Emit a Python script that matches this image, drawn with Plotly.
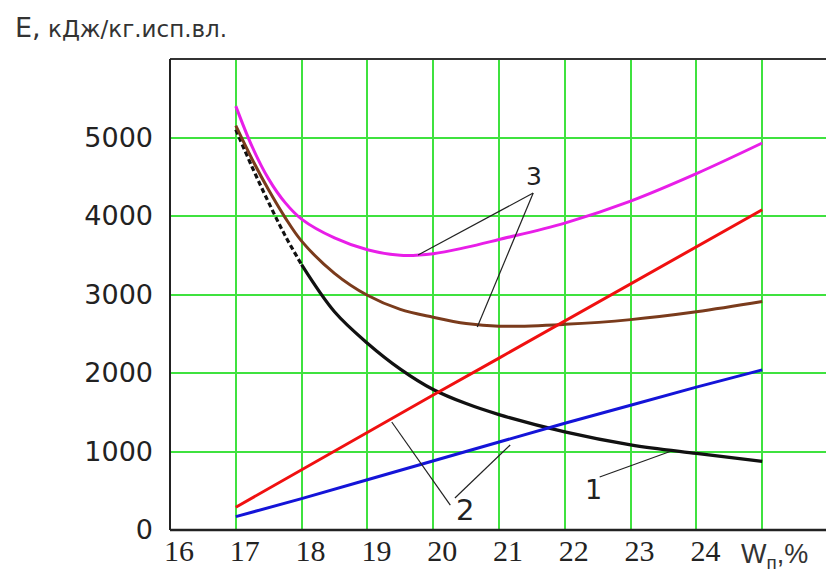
import plotly.graph_objects as go

# ---- data ----
w_curve = [17, 17.25, 17.5, 17.75, 18, 18.5, 19, 19.5, 20, 20.5, 21, 22, 23, 24, 25]
e1_black = [5100, 4620, 4170, 3750, 3380, 2780, 2380, 2050, 1790, 1610, 1470, 1250, 1085, 975, 875]
e3_magenta = [5400, 4880, 4470, 4170, 3960, 3720, 3570, 3500, 3520, 3600, 3700, 3910, 4190, 4540, 4930]
e3_brown = [5150, 4720, 4330, 3980, 3680, 3270, 2990, 2810, 2710, 2630, 2595, 2620, 2680, 2780, 2910]

w_lin = [17, 18, 19, 20, 21, 22, 23, 24, 25]
e2_red = [290, 770, 1250, 1720, 2190, 2660, 3130, 3600, 4080]
e2_blue = [170, 400, 640, 880, 1120, 1360, 1590, 1820, 2040]

x_tickvals = [16, 17, 18, 19, 20, 21, 22, 23, 24, 25, 26]
x_ticktext = ["16", "17", "18", "19", "20", "21", "22", "23", "24", " ", " "]
y_tickvals = [0, 1000, 2000, 3000, 4000, 5000, 6000]
y_ticktext = ["0", "1000", "2000", "3000", "4000", "5000", " "]

# leader lines for curve labels: (x0, y0, x1, y1)
leaders = [
    (19.77, 3503, 21.52, 4293),   # 3 -> magenta
    (20.67, 2586, 21.52, 4293),   # 3 -> brown
    (19.37, 1376, 20.26, 318),    # 2 -> red
    (21.17, 1083, 20.33, 408),    # 2 -> blue
    (23.60, 1000, 22.53, 675),    # 1 -> black
]
labels = [("3", 21.53, 4497, 25), ("2", 20.48, 255, 29), ("1", 22.43, 510, 27)]

fig = go.Figure()
dash_end = 5
fig.add_trace(go.Scatter(x=w_curve[:dash_end], y=e1_black[:dash_end], mode="lines",
                         line=dict(color="#111111", width=3.2, dash="5px,3px", shape="spline")))
fig.add_trace(go.Scatter(x=w_curve[dash_end - 1:], y=e1_black[dash_end - 1:], mode="lines",
                         line=dict(color="#111111", width=3.2, shape="spline")))
fig.add_trace(go.Scatter(x=w_curve, y=e3_brown, mode="lines",
                         line=dict(color="#7a3b1c", width=3, shape="spline")))
fig.add_trace(go.Scatter(x=w_curve, y=e3_magenta, mode="lines",
                         line=dict(color="#e81ee8", width=3, shape="spline")))
fig.add_trace(go.Scatter(x=w_lin, y=e2_red, mode="lines",
                         line=dict(color="#f01010", width=3)))
fig.add_trace(go.Scatter(x=w_lin, y=e2_blue, mode="lines",
                         line=dict(color="#1414d8", width=3)))

for x0, y0, x1, y1 in leaders:
    fig.add_shape(type="line", x0=x0, y0=y0, x1=x1, y1=y1, xref="x", yref="y",
                  line=dict(color="#222222", width=1.2))

for txt, lx, ly, sz in labels:
    fig.add_annotation(x=lx, y=ly, text=txt, showarrow=False, xref="x", yref="y",
                       font=dict(family="DejaVu Sans", size=sz, color="#222222"))

# borders
fig.add_shape(type="line", xref="paper", yref="paper", x0=0, y0=1, x1=1, y1=1,
              line=dict(color="#333333", width=2), layer="above")
fig.add_shape(type="line", xref="paper", yref="paper", x0=1, y0=0, x1=1, y1=1,
              line=dict(color="#0a7a0a", width=3), layer="above")
fig.add_shape(type="line", xref="paper", yref="paper", x0=0, y0=0, x1=0, y1=1,
              line=dict(color="#222222", width=2), layer="above")
fig.add_shape(type="line", xref="paper", yref="paper", x0=0, y0=0, x1=1, y1=0,
              line=dict(color="#222222", width=2.5), layer="above")

# axis titles as text
fig.add_annotation(x=-0.2386, y=1.066, xref="paper", yref="paper", text="E,",
                   showarrow=False, xanchor="left", yanchor="middle",
                   font=dict(family="DejaVu Sans", size=27, color="#333333"))
fig.add_annotation(x=-0.1885, y=1.064, xref="paper", yref="paper", text="кДж/кг.исп.вл.",
                   showarrow=False, xanchor="left", yanchor="middle",
                   font=dict(family="DejaVu Sans", size=23, color="#333333"))
fig.add_annotation(x=0.864, y=-0.055, xref="paper", yref="paper", text="W<sub>п</sub>,%",
                   showarrow=False, xanchor="left", yanchor="middle",
                   font=dict(family="Liberation Sans", size=27, color="#333333"))

# page body has an 8px margin, so the figure is sized/positioned to compensate
fig.update_layout(
    width=826, height=562,
    margin=dict(l=162, r=6, t=51, b=40),
    paper_bgcolor="white", plot_bgcolor="white",
    showlegend=False,
    xaxis=dict(range=[16, 26], tickvals=x_tickvals, ticktext=x_ticktext,
               showgrid=True, gridcolor="#3fe23f", gridwidth=2, zeroline=False,
               showline=False, ticks="", ticklabelshift=9, ticklabelstandoff=0,
               automargin=False,
               tickfont=dict(family="Liberation Serif", size=30, color="#222222")),
    yaxis=dict(range=[0, 6000], tickvals=y_tickvals, ticktext=y_ticktext,
               showgrid=True, gridcolor="#3fe23f", gridwidth=2, zeroline=False,
               showline=False, ticks="", ticklabelstandoff=16, automargin=False,
               tickfont=dict(family="DejaVu Sans", size=27, color="#222222")),
)

fig.write_html("out.html")
